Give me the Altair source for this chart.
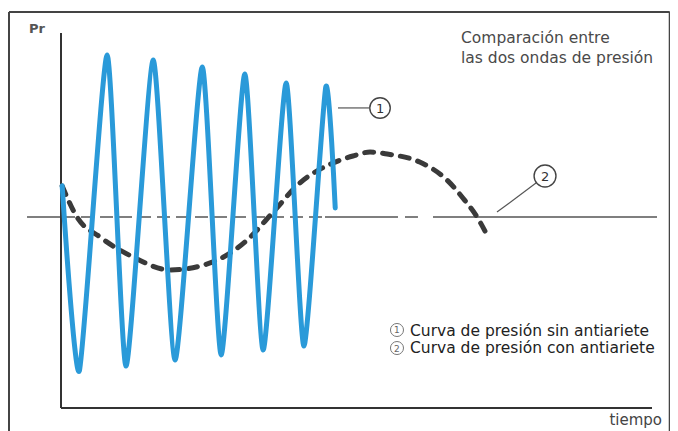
import altair as alt
import pandas as pd

# ---- data (time units, pressure units) ----
# Curve 1: pressure without anti-ram device
t_c1 = [0.02, 0.31, 0.78, 1.10, 1.56, 1.93, 2.39, 2.71, 3.11, 3.42, 3.81, 4.11, 4.48, 4.64]
p_c1 = [1.90, -9.39, 9.88, -9.09, 9.57, -8.72, 9.15, -8.41, 8.72, -8.11, 8.17, -7.87, 7.93, 0.55]

# Curve 2: pressure with anti-ram device
t_c2 = [0.02, 0.27, 0.66, 1.22, 1.85, 2.57, 3.15, 3.59, 4.04, 4.60, 4.94, 5.23, 5.52, 6.07, 6.53, 6.80, 7.04, 7.21]
p_c2 = [1.89, 0.00, -1.22, -2.44, -3.23, -2.74, -1.40, 0.30, 2.07, 3.29, 3.72, 3.96, 3.84, 3.35, 2.26, 1.16, 0.00, -1.10]

title_lines = ["Comparación entre", "las dos ondas de presión"]
legend_lines = ["Curva de presión sin antiariete", "Curva de presión con antiariete"]
legend_nums = ["1", "2"]
y_label = "Pr"
x_label = "tiempo"

# ---- scales ----
T_DOM = [-0.8968, 10.3046]
P_DOM = [-13.0488, 12.7439]
P_TOP, P_BOT = 11.22, -11.65   # axis extents
T_END = 10.0

FONT = "DejaVu Sans"

xs = alt.Scale(domain=T_DOM, nice=False, zero=False)
ys = alt.Scale(domain=P_DOM, nice=False, zero=False)

def X(f="t"):
    return alt.X(f"{f}:Q", scale=xs, axis=None)

def Y(f="p"):
    return alt.Y(f"{f}:Q", scale=ys, axis=None)

c1 = pd.DataFrame({"t": t_c1, "p": p_c1, "o": range(len(t_c1))})
c2 = pd.DataFrame({"t": t_c2, "p": p_c2, "o": range(len(t_c2))})

# frame
frame = pd.DataFrame({
    "t": [-0.880, -0.880, 10.300],
    "p": [12.50, 12.50, 12.50],
    "t2": [10.300, -0.880, 10.300],
    "p2": [12.50, P_DOM[0], P_DOM[0]],
})
frame_layer = alt.Chart(frame).mark_rule(color="#444444", strokeWidth=2).encode(
    x=X("t"), y=Y("p"), x2="t2:Q", y2="p2:Q")

# axes
axes = pd.DataFrame({
    "t": [0.0, 0.0], "p": [P_TOP, P_BOT], "t2": [0.0, T_END], "p2": [P_BOT, P_BOT]})
axes_layer = alt.Chart(axes).mark_rule(color="#333333", strokeWidth=2).encode(
    x=X("t"), y=Y("p"), x2="t2:Q", y2="p2:Q")

# zero (static pressure) line, solid and dashed parts
zero_solid = pd.DataFrame({"t": [-0.575, 4.467, 5.82, 6.294], "t2": [0.017, 5.702, 6.04, 10.085],
                           "p": [0, 0, 0, 0]})
zero_dash = pd.DataFrame({"t": [0.017], "t2": [4.467], "p": [0]})
zs_layer = alt.Chart(zero_solid).mark_rule(color="#555555", strokeWidth=1.5).encode(
    x=X("t"), x2="t2:Q", y=Y("p"))
zd_layer = alt.Chart(zero_dash).mark_rule(color="#555555", strokeWidth=1.5,
                                          strokeDash=[13, 6]).encode(
    x=X("t"), x2="t2:Q", y=Y("p"))

# curves
curve2 = alt.Chart(c2).mark_line(color="#3a3a3a", strokeWidth=5, strokeDash=[9, 9],
                                 strokeCap="round", interpolate="monotone").encode(
    x=X("t"), y=Y("p"), order="o:Q")
curve1 = alt.Chart(c1).mark_line(color="#2a9ad9", strokeWidth=5, strokeCap="round",
                                 strokeJoin="round", interpolate="cardinal",
                                 tension=0.4).encode(
    x=X("t"), y=Y("p"), order="o:Q")

# leaders to numbered circles
leaders = pd.DataFrame({"t": [4.687, 7.377], "p": [6.65, 0.30], "t2": [5.212, 8.037], "p2": [6.65, 2.07]})
lead_layer = alt.Chart(leaders).mark_rule(color="#555555", strokeWidth=1.2).encode(
    x=X("t"), y=Y("p"), x2="t2:Q", y2="p2:Q")

marks = pd.DataFrame({"t": [5.398, 8.19], "p": [6.65, 2.50], "n": legend_nums, "s": [420, 480]})
circ_layer = alt.Chart(marks).mark_point(shape="circle", filled=False, color="#444444",
                                         strokeWidth=1.4, opacity=1).encode(
    x=X("t"), y=Y("p"), size=alt.Size("s:Q", scale=None, legend=None))
num_layer = alt.Chart(marks).mark_text(font=FONT, fontSize=13, color="#333333",
                                       baseline="middle", align="center",
                                       dy=1).encode(
    x=X("t"), y=Y("p"), text="n:N")

# legend
leg = pd.DataFrame({"t": [5.905, 5.905], "p": [-7.26, -8.29], "txt": legend_lines,
                    "tc": [5.685, 5.685], "pc": [-6.89, -7.99], "n": legend_nums})
leg_text = alt.Chart(leg).mark_text(font=FONT, fontSize=15.5, color="#222222",
                                    align="left", baseline="alphabetic").encode(
    x=X("t"), y=Y("p"), text="txt:N")
leg_circ = alt.Chart(leg).mark_point(shape="circle", filled=False, color="#777777",
                                     strokeWidth=1, size=170, opacity=1).encode(
    x=X("tc"), y=Y("pc"))
leg_num = alt.Chart(leg).mark_text(font=FONT, fontSize=9, color="#666666",
                                   align="center", baseline="middle", dy=0.5).encode(
    x=X("tc"), y=Y("pc"), text="n:N")

# title
ttl = pd.DataFrame({"t": [6.768, 6.768], "p": [10.61, 9.39], "txt": title_lines})
ttl_layer = alt.Chart(ttl).mark_text(font=FONT, fontSize=15.5, color="#4a4a4a",
                                     align="left", baseline="alphabetic").encode(
    x=X("t"), y=Y("p"), text="txt:N")

# axis labels
lab = pd.DataFrame({"t": [-0.541, 10.17], "p": [11.22, -12.68], "txt": [y_label, x_label]})
ylab = alt.Chart(lab.iloc[[0]]).mark_text(font=FONT, fontSize=13, fontWeight="bold",
                                          color="#555555",
                                          align="left", baseline="alphabetic").encode(
    x=X("t"), y=Y("p"), text="txt:N")
xlab = alt.Chart(lab.iloc[[1]]).mark_text(font=FONT, fontSize=15, color="#444444",
                                          align="right", baseline="alphabetic").encode(
    x=X("t"), y=Y("p"), text="txt:N")

chart = alt.layer(
    frame_layer, zs_layer, zd_layer, axes_layer, curve2, curve1,
    lead_layer, circ_layer, num_layer, leg_circ, leg_num, leg_text, ttl_layer, ylab, xlab
).properties(
    width=662, height=423, padding=0,
    autosize=alt.AutoSizeParams(type="none"), background="white"
).configure_view(stroke=None)

chart.save("out.html", embed_options={"renderer": "svg", "actions": False})
